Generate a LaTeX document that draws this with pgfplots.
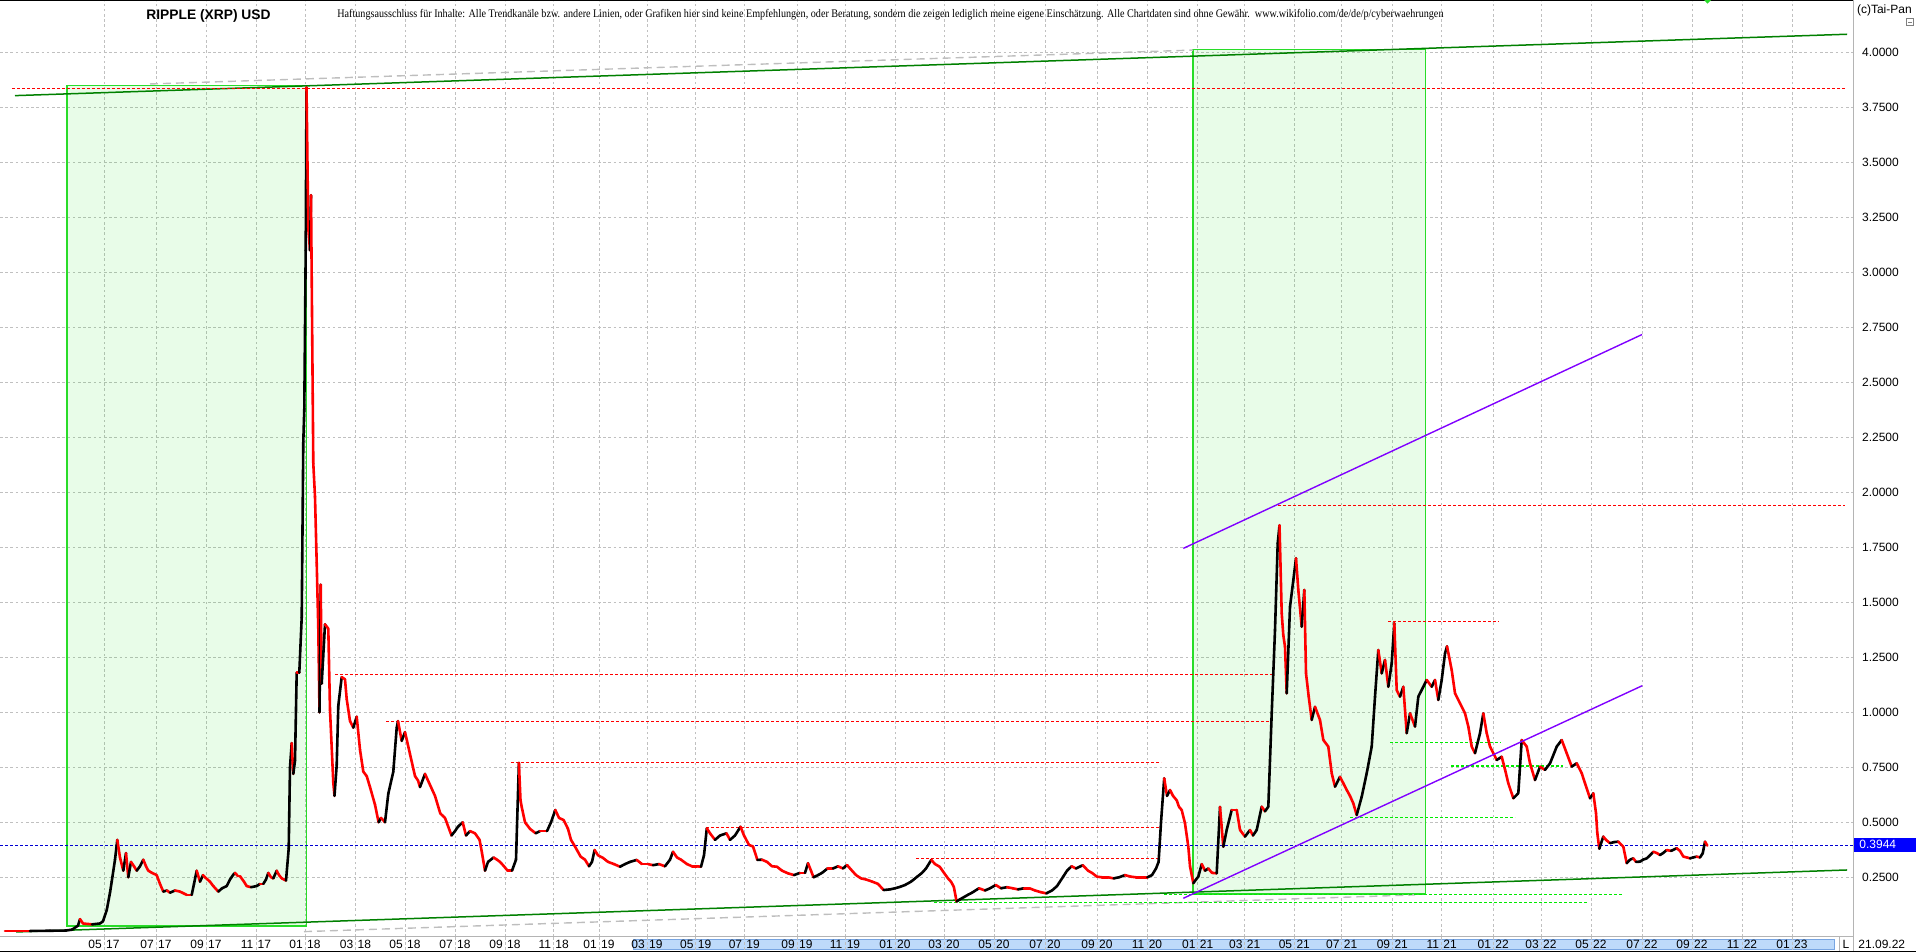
\documentclass[border=0pt]{standalone}
\usepackage{fontspec}
\setmainfont{Liberation Sans}
\newfontfamily\disfont{Liberation Serif}
\usepackage{graphicx}
\usepackage{pgfplots}
\usepackage{pgfplotstable}
\pgfplotsset{compat=1.18}

\definecolor{gridgray}{RGB}{192,192,192}
\definecolor{rectgreen}{RGB}{40,220,40}
\definecolor{rectfill}{RGB}{0,222,0}
\definecolor{trendgreen}{RGB}{0,128,0}
\definecolor{fibgray}{RGB}{190,190,190}
\definecolor{dotred}{RGB}{255,0,0}
\definecolor{dotgreen}{RGB}{0,235,0}
\definecolor{dotblue}{RGB}{0,0,210}
\definecolor{chanpurple}{RGB}{128,0,255}
\definecolor{bandblue}{RGB}{190,218,250}
\definecolor{bandedge}{RGB}{120,165,225}
\definecolor{panelgray}{RGB}{180,180,180}
\definecolor{pricebox}{RGB}{0,0,255}

\newcommand\tf{\fontsize{6}{7}\selectfont}
\newcommand\ml[2]{#1\kern2.2pt#2}
\tikzset{dots/.style={line width=0.6pt, dash pattern=on 1.3pt off 1.2pt}}

% XRP daily chart: px = chart position, v = USD, c = 1 rising / 0 falling
\pgfplotstableread{
px v c
5 0.006 0
30 0.006 1
50 0.007 1
66 0.008 1
72 0.012 1
78 0.030 1
80 0.060 0
83 0.040 0
92 0.036 1
100 0.040 1
103 0.050 1
106.7 0.100 1
110 0.180 1
111.7 0.230 1
115 0.330 1
117.3 0.420 0
120 0.340 0
123.3 0.280 1
126 0.360 0
128.3 0.250 1
131 0.320 0
134 0.300 0
136.7 0.280 1
140 0.300 1
143.3 0.330 0
146 0.300 0
148.3 0.280 0
152 0.270 0
156.7 0.260 0
160 0.220 0
163.3 0.185 1
167 0.190 0
170 0.180 1
175 0.190 0
180 0.185 0
186.7 0.170 0
191.7 0.170 1
194 0.220 1
196.7 0.280 0
200 0.230 1
203 0.260 0
205 0.250 0
210 0.230 0
213.3 0.210 0
218.3 0.185 1
222 0.200 1
226.7 0.210 1
230 0.240 1
233 0.260 1
235 0.270 0
238 0.255 0
240 0.255 0
244 0.230 0
246.7 0.210 0
251 0.205 1
256.7 0.210 1
260 0.220 0
263.3 0.220 1
266 0.240 1
268.3 0.270 0
271 0.250 0
273.3 0.245 1
276.7 0.280 0
279 0.260 0
281.7 0.245 0
284 0.240 0
286 0.235 1
288.7 0.380 1
290 0.750 1
291.7 0.860 0
293.3 0.720 1
295 0.780 1
296.7 1.180 0
299.3 1.180 1
301.7 1.430 1
303.3 2.230 1
304.3 2.380 1
305.7 3.100 1
306.5 3.840 0
308.3 3.200 0
310 3.100 1
311 3.350 0
312.7 2.450 0
313.3 2.130 0
315 1.980 0
316.7 1.680 0
318.3 1.380 0
319.5 1.000 1
320.7 1.580 0
321.7 1.130 1
325 1.400 0
328.3 1.380 0
330 1.010 0
333.3 0.680 0
334.5 0.620 1
336.7 0.760 1
338.3 1.030 1
341.7 1.160 0
345 1.150 0
346.7 1.060 0
350 0.960 0
353.3 0.930 1
356.7 0.980 0
360 0.830 0
363.3 0.730 0
366.7 0.710 0
370 0.660 0
375 0.580 0
378.6 0.500 1
381 0.520 0
385 0.500 1
388.3 0.630 1
393.3 0.730 1
396.7 0.930 1
398 0.960 0
401.7 0.870 1
405 0.910 0
410 0.810 0
415 0.710 0
418 0.690 0
420 0.660 1
425 0.720 0
429 0.680 0
435 0.620 0
440.3 0.540 0
445 0.520 0
451.5 0.440 1
455 0.460 1
458 0.480 1
462.7 0.500 0
466 0.440 1
470 0.460 0
475 0.450 0
479.6 0.420 0
482 0.360 0
485 0.280 1
488 0.320 1
493.6 0.340 0
497 0.330 0
500 0.320 0
504 0.300 0
507.6 0.280 0
512 0.280 1
516 0.330 1
518.9 0.770 0
520.5 0.600 0
521.7 0.570 0
525 0.500 0
530 0.470 0
535.7 0.450 1
540 0.460 0
547 0.460 1
551 0.500 1
555.3 0.556 0
559 0.520 0
563.7 0.510 0
568 0.470 0
571 0.420 0
575 0.390 0
580.6 0.344 0
585 0.330 0
589 0.300 1
592 0.320 1
594.6 0.374 0
598 0.350 0
603 0.338 0
608 0.320 0
614 0.310 0
620 0.298 1
625 0.310 1
630 0.320 1
636.7 0.329 0
642 0.310 0
648 0.310 0
653 0.305 1
659 0.310 0
665 0.300 1
670 0.330 1
673 0.366 0
677 0.340 0
681 0.330 0
687 0.310 0
692 0.300 0
697 0.300 0
701 0.298 1
704 0.350 1
706.8 0.473 0
710 0.450 0
715 0.420 1
720 0.440 1
726.5 0.450 0
730 0.420 1
735 0.440 1
740.5 0.480 0
744 0.440 0
749 0.397 0
753 0.390 0
757.4 0.329 1
762 0.330 0
767 0.320 0
772 0.300 0
777 0.298 0
782 0.280 0
788 0.268 0
794 0.260 1
800 0.270 0
805 0.270 1
808 0.314 0
811 0.280 0
813.5 0.250 1
818 0.260 1
822 0.270 1
827.5 0.290 0
833 0.290 1
838 0.300 0
843 0.290 1
847 0.306 0
852 0.280 0
856 0.260 0
861 0.245 0
866 0.240 0
872.4 0.230 0
878 0.220 0
883.6 0.192 1
890 0.195 1
895 0.200 1
900.4 0.207 1
905 0.215 1
911 0.230 1
917.3 0.253 1
922 0.270 1
926 0.290 1
931.3 0.329 0
935 0.310 0
939.7 0.298 0
944 0.270 0
948 0.245 0
951 0.230 0
953.8 0.207 0
956.6 0.140 1
960 0.150 1
964 0.160 1
967.8 0.170 1
972 0.180 1
979 0.200 0
985 0.190 1
990 0.200 1
995.8 0.215 0
1001 0.200 1
1007 0.205 0
1012.7 0.200 0
1018 0.195 1
1024 0.200 0
1029.5 0.200 0
1035 0.190 0
1041 0.182 0
1046.4 0.177 1
1052 0.190 1
1057 0.210 1
1063.2 0.253 1
1067 0.280 1
1071.6 0.300 0
1076 0.290 1
1082.8 0.305 0
1088 0.280 0
1092 0.270 0
1096.8 0.253 0
1102 0.250 0
1108 0.250 0
1113.7 0.245 1
1119 0.250 1
1125 0.260 0
1130.5 0.253 0
1136 0.250 0
1141 0.250 0
1147.4 0.250 1
1152 0.260 1
1156 0.290 1
1158.6 0.320 1
1161 0.500 1
1164.2 0.700 0
1167 0.620 1
1170 0.647 0
1173 0.620 0
1176.7 0.600 0
1179 0.570 0
1181.7 0.556 0
1185 0.495 0
1188.3 0.389 0
1190 0.300 0
1193.3 0.223 1
1196 0.240 1
1198.3 0.253 1
1201.7 0.310 0
1205 0.280 1
1208.3 0.290 0
1212 0.270 0
1216.7 0.268 1
1220 0.570 0
1223.3 0.389 1
1226.7 0.465 1
1231.7 0.556 0
1236.7 0.556 0
1240 0.465 0
1245 0.435 1
1250 0.465 0
1253 0.440 1
1256.7 0.465 1
1261.7 0.571 0
1265 0.550 1
1268.3 0.571 1
1271.7 0.995 1
1275 1.374 1
1277.7 1.768 1
1279.5 1.850 0
1281.7 1.450 0
1283.3 1.350 0
1285 1.298 0
1286.7 1.086 1
1290 1.480 1
1293.3 1.600 1
1296 1.700 0
1298.3 1.556 0
1301.7 1.389 1
1304.3 1.556 0
1306 1.177 0
1308.7 1.071 0
1311.7 0.965 1
1315 1.025 0
1320 0.965 0
1323.3 0.874 0
1328.3 0.844 0
1331.7 0.723 0
1335 0.662 1
1340 0.707 0
1343 0.680 0
1346.7 0.647 0
1350 0.620 0
1353.3 0.586 0
1356.7 0.533 1
1361.7 0.616 1
1366.7 0.723 1
1371.7 0.844 1
1375 1.071 1
1378.3 1.283 0
1381.7 1.177 1
1385 1.238 0
1388.3 1.116 1
1391.7 1.223 1
1394.3 1.405 0
1396.7 1.100 0
1400 1.071 1
1403.3 1.116 0
1406.7 0.905 1
1410 0.995 0
1415 0.935 1
1418.3 1.071 1
1423.3 1.116 1
1426.7 1.147 0
1431.7 1.116 1
1435 1.147 0
1438.3 1.056 1
1441.7 1.147 1
1445 1.268 1
1447 1.300 0
1451.7 1.192 0
1455 1.086 0
1460 1.041 0
1465 0.995 0
1468.3 0.935 0
1471.7 0.844 0
1475 0.814 1
1480 0.905 1
1483.3 0.995 0
1486.7 0.905 0
1490 0.844 0
1496.7 0.783 1
1501.7 0.798 0
1505 0.740 0
1508.3 0.677 0
1513.3 0.609 1
1518.3 0.632 1
1521.7 0.874 0
1526.7 0.844 0
1530 0.768 0
1535 0.692 1
1540 0.753 0
1545 0.738 1
1550 0.768 1
1556.7 0.844 1
1561.7 0.874 0
1566.7 0.814 0
1571.7 0.753 1
1576.7 0.768 0
1581.7 0.723 0
1585 0.677 0
1590 0.609 1
1593.3 0.632 0
1596 0.541 0
1597.3 0.450 0
1599.3 0.380 1
1603.3 0.435 0
1606 0.420 0
1610 0.405 1
1614 0.410 1
1618.3 0.412 0
1623.3 0.389 0
1626.7 0.314 1
1630 0.330 1
1633.3 0.336 0
1636 0.320 1
1640 0.321 1
1643 0.330 1
1646.7 0.336 1
1650 0.350 1
1653.3 0.366 0
1657 0.360 0
1660 0.351 1
1663 0.360 1
1666.7 0.374 0
1671 0.370 1
1676.7 0.382 0
1680 0.370 0
1683.3 0.344 0
1687 0.340 0
1690 0.336 1
1693 0.340 1
1696.7 0.344 0
1700 0.340 1
1702.7 0.359 1
1705 0.412 0
1707.3 0.394 0
}\xrp

\begin{document}
\begin{tikzpicture}
% date band under the plot
\filldraw[fill=bandblue, draw=bandedge, line width=0.4pt] (316.65pt,1.35pt) rectangle (917pt,6.35pt);

\begin{axis}[
  at={(0pt,7.5pt)}, anchor=south west,
  scale only axis, width=926.5pt, height=468pt,
  xmin=0, xmax=1853, ymin=-0.0214, ymax=4.2332,
  axis line style={draw=none},
  major tick length=0pt, tick style={draw=none},
  clip=false,
  xtick={104,156,206,256,305,355.5,405,455,505,553.6,599,647,695.7,744.3,797,845,895,944,994,1045,1097,1147,1197.7,1244.7,1294.3,1341.7,1392.3,1441.7,1493.2,1541,1591,1642,1692,1742,1792},
  xticklabels={\ml{05}{17},\ml{07}{17},\ml{09}{17},\ml{11}{17},\ml{01}{18},\ml{03}{18},\ml{05}{18},\ml{07}{18},\ml{09}{18},\ml{11}{18},\ml{01}{19},\ml{03}{19},\ml{05}{19},\ml{07}{19},\ml{09}{19},\ml{11}{19},\ml{01}{20},\ml{03}{20},\ml{05}{20},\ml{07}{20},\ml{09}{20},\ml{11}{20},\ml{01}{21},\ml{03}{21},\ml{05}{21},\ml{07}{21},\ml{09}{21},\ml{11}{21},\ml{01}{22},\ml{03}{22},\ml{05}{22},\ml{07}{22},\ml{09}{22},\ml{11}{22},\ml{01}{23}},
  x tick label style={font=\tf, anchor=center, yshift=-3.65pt},
  ytick={0.25,0.5,...,4.0},
  yticklabel pos=right,
  y tick label style={font=\tf, anchor=west, xshift=1pt,
    /pgf/number format/.cd, fixed, fixed zerofill, precision=4, assume math mode=true},
  grid=major,
  major grid style={gridgray, line width=0.5pt, dash pattern=on 1.3pt off 1.3pt},
  colormap={updown}{color(0cm)=(red) color(1cm)=(black)},
  point meta min=0, point meta max=1,
]
% gridlines running through the date band
\pgfplotsinvokeforeach{104,156,206,256,305,355.5,405,455,505,553.6,599,647,695.7,744.3,797,845,895,944,994,1045,1097,1147,1197.7,1244.7,1294.3,1341.7,1392.3,1441.7,1493.2,1541,1591,1642,1692,1742,1792}{
  \draw[gridgray, line width=0.5pt, dash pattern=on 1.3pt off 1.3pt] (axis cs:#1,-0.0214) -- ++(0pt,-7.5pt);
}

% highlighted boxes
\fill[rectfill, fill opacity=0.09] (axis cs:67,0.0286) rectangle (axis cs:306.7,3.848);
\fill[rectfill, fill opacity=0.09] (axis cs:1193,0.174) rectangle (axis cs:1425.3,4.014);
\draw[rectgreen, line width=0.6pt] (axis cs:67,0.0286) rectangle (axis cs:306.7,3.848);
\draw[rectgreen, line width=0.6pt] (axis cs:1193,0.174) rectangle (axis cs:1425.3,4.014);

% long-term channel
\draw[fibgray, line width=0.7pt, dash pattern=on 4pt off 2.5pt] (axis cs:150,3.856) -- (axis cs:1193,4.01);
\draw[fibgray, line width=0.7pt, dash pattern=on 4pt off 2.5pt] (axis cs:304,0.003) -- (axis cs:1415,0.17);
\draw[trendgreen, line width=0.75pt] (axis cs:15,3.803) -- (axis cs:1847,4.082);
\draw[trendgreen, line width=0.75pt] (axis cs:16,0.0014) -- (axis cs:1847,0.2832);

% resistance levels
\draw[dotred, dots] (axis cs:12,3.836) -- (axis cs:1846,3.836);
\draw[dotred, dots] (axis cs:1278,1.94) -- (axis cs:1845,1.94);
\draw[dotred, dots] (axis cs:335,1.17) -- (axis cs:1274,1.17);
\draw[dotred, dots] (axis cs:386,0.959) -- (axis cs:1270,0.959);
\draw[dotred, dots] (axis cs:511,0.773) -- (axis cs:1161,0.773);
\draw[dotred, dots] (axis cs:706,0.477) -- (axis cs:1159,0.477);
\draw[dotred, dots] (axis cs:916,0.336) -- (axis cs:1161,0.336);
\draw[dotred, dots] (axis cs:1388,1.413) -- (axis cs:1499,1.413);

% support levels
\draw[dotgreen, dots] (axis cs:1390,0.864) -- (axis cs:1501,0.864);
\draw[dotgreen, dots] (axis cs:1451,0.756) -- (axis cs:1563,0.756);
\draw[dotgreen, dots] (axis cs:1350,0.523) -- (axis cs:1515,0.523);
\draw[dotgreen, dots] (axis cs:1164,0.1727) -- (axis cs:1622,0.1727);
\draw[dotgreen, dots] (axis cs:934,0.136) -- (axis cs:1587,0.136);

% last price
\draw[dotblue, dots] (axis cs:0,0.3944) -- (axis cs:1853,0.3944);

\addplot[mesh, shader=flat corner, point meta=explicit, line width=1.3pt, line cap=round]
  table[x=px, y=v, meta=c] {\xrp};

% rising channel 2021/22
\draw[chanpurple, line width=0.7pt] (axis cs:1183.3,1.745) -- (axis cs:1642,2.717);
\draw[chanpurple, line width=0.7pt] (axis cs:1183.3,0.1545) -- (axis cs:1642.3,1.121);
\end{axis}

% frame and right-hand panel
\draw[black, line width=0.6pt] (0pt,475.7pt) -- (926.5pt,475.7pt);
\draw[panelgray, line width=0.5pt] (0pt,7.5pt) -- (926.5pt,7.5pt);
\draw[panelgray, line width=0.5pt] (926.75pt,0pt) -- (926.75pt,476pt);
\draw[panelgray, line width=0.5pt] (919.5pt,0pt) -- (919.5pt,7.5pt);
\draw[black, line width=0.6pt] (0pt,0.3pt) -- (958pt,0.3pt);
\fill[rectgreen] (852pt,476pt) -- (855.5pt,476pt) -- (853.75pt,474.2pt) -- cycle;

\node[font=\fontsize{6.9}{8}\selectfont\bfseries] at (104.25pt,468pt) {RIPPLE (XRP) USD};
\node[anchor=west, inner sep=0pt] at (168.5pt,468.5pt) {\resizebox{553pt}{\height}{\disfont\fontsize{5.8}{6.5}\selectfont Haftungsausschluss für Inhalte: Alle Trendkanäle bzw. andere Linien, oder Grafiken hier sind keine Empfehlungen, oder Beratung, sondern die zeigen lediglich meine eigene Einschätzung. Alle Chartdaten sind ohne Gewähr.\ \ www.wikifolio.com/de/de/p/cyberwaehrungen}};
\node[anchor=west, inner sep=0pt, font=\tf] at (928.3pt,471pt) {(c)Tai-Pan};
\draw[gray, line width=0.4pt] (953.3pt,463.2pt) rectangle (956.7pt,466.8pt);
\draw[gray, line width=0.4pt] (954pt,465pt) -- (956pt,465pt);

\fill[pricebox] (927pt,50.2pt) rectangle (958pt,57pt);
\node[anchor=west, inner sep=0pt, text=white, font=\tf] at (929.5pt,53.6pt) {0.3944};

\node[font=\tf] at (923pt,3.85pt) {L};
\node[anchor=west, inner sep=0pt, font=\tf] at (929pt,4pt) {21.09.22};

\pgfresetboundingbox
\path[use as bounding box] (0pt,0pt) rectangle (958pt,476pt);
\end{tikzpicture}
\end{document}
